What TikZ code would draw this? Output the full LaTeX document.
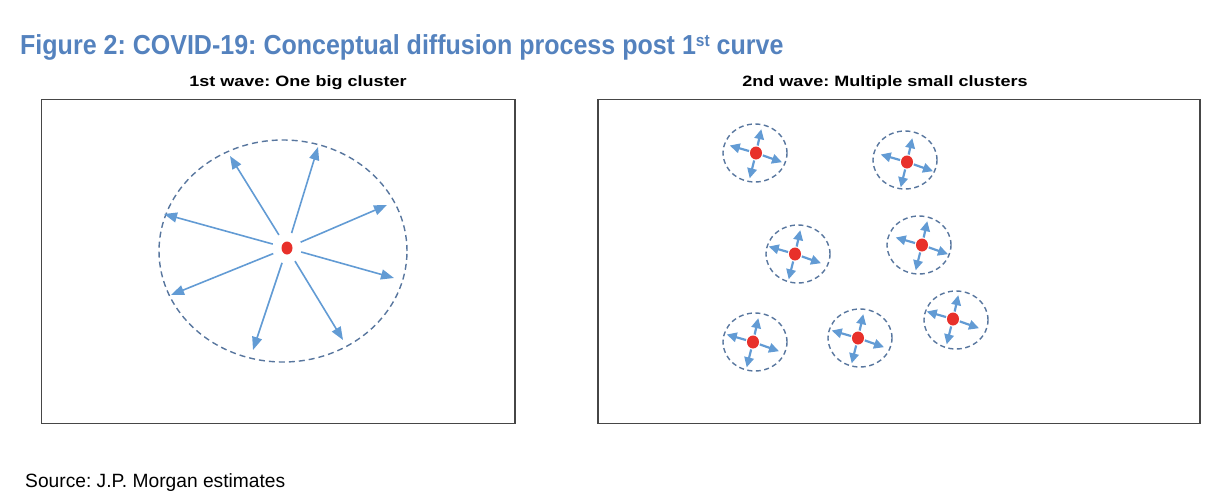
\documentclass[tikz,border=0pt]{standalone}
\usepackage{fontspec}
\setmainfont{Liberation Sans}
\usepackage{graphicx}
\usetikzlibrary{shapes.geometric,arrows.meta,calc}
\definecolor{titleblue}{RGB}{84,130,190}
\definecolor{arrowblue}{RGB}{98,155,212}
\definecolor{dashblue}{RGB}{88,118,158}
\definecolor{dotred}{RGB}{232,48,42}
\definecolor{boxgrey}{RGB}{70,70,70}
\frenchspacing
\tikzset{
  panel/.style={draw=boxgrey, line width=1.5pt},
  bigring/.style={ellipse, draw=dashblue, line width=1.4pt, dash pattern=on 6pt off 4pt, inner sep=0pt},
  smallring/.style={ellipse, draw=dashblue, line width=1.4pt, dash pattern=on 5pt off 3.5pt, inner sep=0pt, minimum width=64pt, minimum height=58pt},
  bigdotstyle/.style={ellipse, fill=dotred, inner sep=0pt, minimum width=11pt, minimum height=13pt},
  smalldotstyle/.style={ellipse, fill=dotred, inner sep=0pt, minimum width=12pt, minimum height=13pt},
  bigarrow/.style={draw=arrowblue, line width=1.6pt, -{Triangle[length=13pt,width=10pt]}, shorten <=9pt},
  smallarrow/.style={draw=arrowblue, line width=2.2pt, -{Triangle[length=10pt,width=9.5pt]}, shorten <=1pt},
  subtitle/.style={anchor=base, inner sep=0pt, font=\fontsize{15}{18}\selectfont\bfseries}
}
\begin{document}
\begin{tikzpicture}[x=1pt,y=-1pt]
\useasboundingbox (0,0) rectangle (1216,496);
% title
\node[anchor=base west, inner sep=0pt, text=titleblue, font=\fontsize{27.5}{30}\selectfont\bfseries] (title) at (20,54)
  {\scalebox{0.91}[1]{Figure 2: COVID-19: Conceptual diffusion process post 1{\fontsize{17}{20}\selectfont\raisebox{8pt}{st}} curve}};
% subtitles
\node[subtitle] (sub1) at (298,86) {\scalebox{1.2}[1]{1st wave: One big cluster}};
\node[subtitle] (sub2) at (885,86) {\scalebox{1.2}[1]{2nd wave: Multiple small clusters}};
% panels
\draw[panel] (41.5,99.5) rectangle (515,423.5);
\draw[panel] (598,99.5) rectangle (1200,423.5);
% big cluster
\node[bigring, minimum width=248pt, minimum height=222pt] (bigring) at (283,251) {};
\node[bigdotstyle] (bigdot) at (287,248) {};
\foreach \i/\tx/\ty in {1/318/147, 2/230/156, 3/164/214, 4/387/205, 5/394/278, 6/343/340, 7/253/350, 8/171/295}{
  \coordinate (bt\i) at (\tx,\ty);
  \draw[bigarrow] (bigdot) -- (bt\i);
}
% small clusters
\foreach \n/\dx/\dy/\ex/\ey in {1/756/153/755/153, 2/907/162/905/160, 3/795/254/798/254, 4/922/245/919/245, 5/753/342/755/342, 6/858/338/860/338, 7/953/319/956/320}{
  \node[smallring] (ring\n) at (\ex,\ey) {};
  \node[smalldotstyle] (dot\n) at (\dx,\dy) {};
  \coordinate (up\n) at ($(\dx,\dy)+(5.3,-23.8)$);
  \coordinate (lf\n) at ($(\dx,\dy)+(-26.3,-7.5)$);
  \coordinate (rt\n) at ($(\dx,\dy)+(26,9.2)$);
  \coordinate (dn\n) at ($(\dx,\dy)+(-6.3,25.3)$);
  \draw[smallarrow] (dot\n) -- (up\n);
  \draw[smallarrow] (dot\n) -- (lf\n);
  \draw[smallarrow] (dot\n) -- (rt\n);
  \draw[smallarrow] (dot\n) -- (dn\n);
}
% source
\node[anchor=base west, inner sep=0pt, font=\fontsize{19.2}{22}\selectfont] (source) at (25,487) {Source: J.P. Morgan estimates};
\end{tikzpicture}
\end{document}
